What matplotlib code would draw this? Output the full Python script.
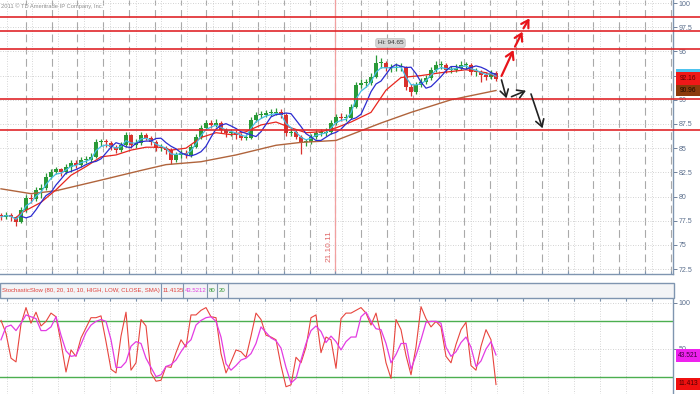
import pandas as pd
import matplotlib
matplotlib.use("Agg")
import matplotlib.pyplot as plt
from matplotlib.patches import Rectangle
from matplotlib import font_manager

# price bars (one every 5 px in the picture)
closes = [77.9, 78.1, 77.9, 77.4, 78.6, 79.9, 79.7, 80.7, 80.9, 82.0,
          82.5, 82.8, 82.5, 83.1, 83.5, 83.3, 83.8, 83.8, 84.1, 85.6,
          85.6, 85.5, 85.1, 84.8, 85.3, 86.4, 85.3, 85.5, 86.4, 86.1,
          85.6, 85.0, 85.0, 84.8, 83.8, 84.3, 84.5, 84.3, 85.1, 86.2,
          87.1, 87.6, 87.4, 87.6, 86.9, 86.6, 86.6, 86.4, 86.1, 86.1,
          87.9, 88.4, 88.4, 88.6, 88.6, 88.7, 88.4, 86.6, 86.7, 86.2,
          85.6, 85.6, 86.2, 86.6, 86.6, 86.7, 87.6, 88.2, 88.1, 88.1,
          89.3, 91.5, 91.7, 91.7, 92.4, 93.8, 93.8, 93.3, 93.3, 93.4,
          93.4, 91.3, 90.8, 91.5, 91.8, 92.3, 93.1, 93.6, 93.6, 93.1,
          93.1, 93.3, 93.6, 93.6, 92.9, 92.9, 92.6, 92.4, 92.8, 92.16]
highs = [78.3, 78.4, 78.3, 78.0, 78.9, 80.2, 80.3, 81.0, 81.3, 82.4,
         82.9, 83.1, 83.0, 83.4, 83.8, 83.8, 84.1, 84.2, 84.5, 85.9,
         86.0, 85.9, 85.7, 85.3, 85.6, 86.7, 86.5, 85.9, 86.7, 86.6,
         86.3, 85.8, 85.4, 85.2, 85.0, 84.6, 84.8, 84.8, 85.4, 86.5,
         87.4, 87.9, 87.9, 88.0, 87.8, 87.1, 87.0, 86.9, 86.6, 86.5,
         88.2, 88.7, 88.8, 88.9, 89.0, 89.1, 89.0, 88.6, 87.1, 87.0,
         86.4, 86.0, 86.5, 86.9, 87.0, 87.1, 87.9, 88.5, 88.6, 88.5,
         89.6, 91.8, 92.1, 92.1, 92.8, 94.65, 94.3, 94.0, 93.7, 93.8,
         93.8, 93.5, 91.6, 91.8, 92.2, 92.6, 93.4, 94.0, 94.0, 93.8,
         93.5, 93.7, 94.0, 93.9, 93.8, 93.3, 93.1, 92.9, 93.1, 93.0]
lows = [77.6, 77.7, 77.5, 77.0, 77.3, 78.4, 79.3, 79.5, 79.9, 80.7,
        81.8, 82.3, 82.1, 82.3, 82.5, 83.0, 83.1, 83.5, 83.6, 84.0,
        85.2, 85.1, 84.8, 84.5, 84.6, 85.1, 85.0, 85.0, 85.3, 85.8,
        85.3, 84.7, 84.7, 84.4, 83.4, 83.6, 84.0, 84.0, 84.1, 85.0,
        86.0, 86.9, 87.1, 87.2, 86.6, 86.2, 86.3, 86.0, 85.8, 85.8,
        86.0, 87.7, 88.1, 88.2, 88.3, 88.4, 88.1, 86.3, 86.3, 85.9,
        84.4, 85.2, 85.4, 86.0, 86.3, 86.3, 86.5, 87.4, 87.8, 87.8,
        88.0, 89.1, 91.2, 91.3, 91.5, 92.2, 93.3, 93.0, 92.9, 93.0,
        93.0, 91.0, 90.4, 90.6, 91.3, 91.6, 92.0, 92.9, 93.2, 92.8,
        92.8, 92.9, 93.1, 93.2, 92.6, 92.5, 91.8, 92.0, 92.1, 91.9]
first_open = 78.0

# moving averages (bar index, price)
red_ma_bar = [3, 4, 8, 11, 14, 17, 20, 23, 26, 29, 32, 34, 37, 40, 43, 46, 49, 52, 55, 58,
              61, 64, 67, 70, 74, 77, 80, 84, 88, 93, 97, 99]
red_ma_val = [77.8, 78.3, 79.4, 80.7, 82.2, 83.1, 84.1, 84.3, 84.8, 85.1, 85.1, 84.8, 85.0, 86.1,
              86.6, 86.4, 86.7, 87.4, 87.7, 87.1, 86.6, 86.7, 87.1, 87.7, 88.7, 91.0, 92.3, 92.5,
              92.8, 93.1, 92.8, 92.4]
brown_ma_bar = [0, 6, 11, 20, 28, 33, 40, 47, 55, 60, 67, 70, 76, 82, 90, 99]
brown_ma_val = [80.8, 80.3, 80.6, 81.7, 82.7, 83.3, 83.6, 84.3, 85.3, 85.6, 85.8, 86.4, 87.6,
                88.7, 90.0, 90.96]

# stochastic slow
stoch_k = [81, 67, 40, 36, 77, 95, 78, 90, 75, 80,
           89, 85, 57, 25, 49, 42, 62, 73, 84, 84,
           86, 58, 28, 24, 64, 90, 27, 35, 82, 75,
           24, 15, 16, 31, 30, 46, 60, 52, 87, 87,
           92, 95, 85, 84, 45, 24, 36, 49, 47, 41,
           64, 89, 82, 65, 63, 60, 32, 9, 11, 41,
           35, 52, 84, 87, 46, 63, 60, 29, 83, 89,
           89, 92, 95, 89, 76, 89, 65, 35, 18, 82,
           71, 43, 22, 52, 96, 83, 74, 80, 74, 42,
           35, 55, 71, 79, 32, 27, 53, 71, 60, 11.4]
stoch_d = [60, 74, 76, 70, 78, 87, 85, 83, 70, 70,
           74, 85, 65, 48, 42, 43, 55, 68, 76, 80,
           82, 80, 60, 30, 30, 36, 53, 58, 56, 40,
           30, 20, 22, 31, 33, 38, 47, 55, 60, 76,
           81, 84, 85, 80, 63, 34, 27, 32, 38, 40,
           45, 56, 74, 68, 62, 59, 51, 30, 13, 18,
           38, 56, 70, 75, 69, 57, 64, 58, 49, 58,
           63, 63, 85, 90, 80, 72, 71, 56, 35, 44,
           56, 56, 28, 43, 60, 79, 80, 80, 78, 52,
           42, 47, 57, 63, 52, 31, 37, 50, 58, 43.5]

levels = [98.6, 97.1, 95.2, 90.05, 86.9]
price_ticks = [72.5, 75, 77.5, 80, 82.5, 85, 87.5, 90, 92.5, 95, 97.5, 100]
# 92.5 sits under the last-price tag in the original, so its label is hidden
price_labels = ["72.5", "75", "77.5", "80", "82.5", "85", "87.5", "90", "", "95", "97.5", "100"]
stoch_ticks = [50, 100]
up_arrows = [((100.1, 92.46), (102.5, 95.14)), ((102.8, 95.49), (104.3, 97.04)),
             ((104.5, 97.39), (105.7, 98.42))]
down_arrows = [((100.1, 92.05), (101.1, 90.15)), ((102.1, 90.32), (105.0, 90.94)),
               ((106.0, 90.60), (108.3, 87.06))]
last_close, last_slow_ma, last_cyan = 92.16, 90.96, 93.0
hi_text = "Hi: 94.65"
date_text = "21.10.11"
stoch_title = "StochasticSlow (80, 20, 10, 10, HIGH, LOW, CLOSE, SMA)"
stoch_vals = ["11.4135", "43.5212", "80", "20"]

names = {f.name for f in font_manager.fontManager.ttflist}
narrow = "Liberation Sans Narrow" in names
plt.rcParams["font.family"] = ["Liberation Sans Narrow" if narrow else "Liberation Sans", "DejaVu Sans"]
fs = 1.0 if narrow else 0.85

W, H = 700, 394
fx = lambda px: px / W
fy = lambda py: 1 - py / H
px_to_bar = lambda px: (px - 1) / 5.0

AXC = "#7f95b0"
TXC = "#5a6e8c"

fig = plt.figure(figsize=(7, 3.94), dpi=100)
ax = fig.add_axes([0, fy(274), fx(673), 274 / H])
ax2 = fig.add_axes([0, 0, fx(673), 96 / H])

xlim = (px_to_bar(0), px_to_bar(673))
dashed_pos = [px_to_bar(25.8 * k) for k in range(1, 27)]
dotted_pos = [px_to_bar(25.8 * k + 6.5) for k in range(0, 26)]

# ---- main price panel
ax.set_xlim(*xlim)
ax.set_ylim(72.0, 100.31)
for x in dashed_pos:
    ax.axvline(x, color="#a9a9a9", lw=0.8, ls=(0, (7, 4)), zorder=0)
for x in dotted_pos:
    ax.axvline(x, color="#c9c9c9", lw=0.6, ls=(0, (1, 2)), zorder=0)
for y in price_ticks:
    ax.axhline(y, color="#c4c4c4", lw=0.6, ls=(0, (1, 2)), zorder=0)

ax.axvline(px_to_bar(335.4), color="#f2a0a0", lw=0.9, zorder=1)
ax.text(px_to_bar(329), 74.9, date_text, rotation=90, ha="center", va="center",
        color="#e06a6a", fontsize=7 * fs)

opens = [first_open] + closes[:-1]
for i, (o, c, h, l) in enumerate(zip(opens, closes, highs, lows)):
    col = "#2a9a38" if c >= o else "#d8322e"
    ax.vlines(i, l, h, color=col, lw=0.9, zorder=2)
    body = c - o if abs(c - o) > 0.1 else 0.1
    ax.bar(i, body, bottom=o, width=0.75, color=col, lw=0, zorder=2)

s = pd.Series(closes)
cyan = s.ewm(span=3).mean()
blue = s.rolling(3).mean().shift(2)
ax.plot(brown_ma_bar, brown_ma_val, color="#b0643c", lw=1.0, zorder=3)
ax.plot(red_ma_bar, red_ma_val, color="#e8261e", lw=0.9, zorder=3)
ax.plot(range(len(closes)), cyan, color="#46bde6", lw=0.9, zorder=3)
ax.plot(range(len(closes)), blue, color="#2c2cd0", lw=0.9, zorder=3)

ytr = ax.get_yaxis_transform()
for lv in levels:
    ax.plot([0, 700 / 673], [lv, lv], transform=ytr, color="#e0262a", lw=1.2,
            clip_on=False, zorder=4)

for (x0, y0), (x1, y1) in up_arrows:
    ax.annotate("", xy=(x1, y1), xytext=(x0, y0), annotation_clip=False, zorder=6,
                arrowprops=dict(arrowstyle="->,head_width=0.3,head_length=0.5", color="#e8141a",
                                lw=1.6, shrinkA=0, shrinkB=0))
for (x0, y0), (x1, y1) in down_arrows:
    ax.annotate("", xy=(x1, y1), xytext=(x0, y0), annotation_clip=False, zorder=6,
                arrowprops=dict(arrowstyle="->,head_width=0.3,head_length=0.5", color="#222222",
                                lw=1.2, shrinkA=0, shrinkB=0))

ax.text(px_to_bar(390.5), 95.87, hi_text, ha="center", va="center", fontsize=5.5 * fs,
        color="#333333", zorder=6,
        bbox=dict(boxstyle="round,pad=0.3", fc="#d6d6d6", ec="#bdbdbd", lw=0.5))

ax.yaxis.tick_right()
ax.set_yticks(price_ticks)
ax.set_yticklabels(price_labels)
ax.tick_params(axis="y", colors=TXC, labelsize=6 * fs, length=3, width=0.6, pad=1)
ax.set_xticks(dashed_pos)
ax.tick_params(axis="x", length=2, direction="in", color=AXC, labelbottom=False)
for side in ["top", "left"]:
    ax.spines[side].set_visible(False)
for side in ["right", "bottom"]:
    ax.spines[side].set_color(AXC)
    ax.spines[side].set_linewidth(1.0)


def tag(a, y, h, text, fc, tc, size):
    tr = a.get_yaxis_transform()
    a.add_patch(Rectangle((1.0045, y - h / 2), 0.036, h, transform=tr, fc=fc, ec="none",
                          clip_on=False, zorder=7))
    if text:
        a.text(1.0225, y, text, transform=tr, ha="center", va="center", fontsize=size,
               color=tc, clip_on=False, zorder=8)


tag(ax, last_cyan, 0.45, "", "#4ec3ee", "k", 5)
tag(ax, last_close, 1.4, "%.2f" % last_close, "#f01818", "#5a0000", 5.6 * fs)
tag(ax, last_slow_ma, 1.2, "%.2f" % last_slow_ma, "#8c3a0c", "#1e0a00", 5.6 * fs)

# ---- stochastic header
fig.add_artist(Rectangle((0, fy(298)), fx(674), 15 / H, transform=fig.transFigure,
                         fc="#f3f4f6", ec=AXC, lw=1.0))
seps = [161, 183, 207, 217, 228]
for sx in seps:
    fig.add_artist(plt.Line2D([fx(sx), fx(sx)], [fy(298), fy(283)], transform=fig.transFigure,
                              color=AXC, lw=0.8))
hy = fy(290.5)
hs = 5.1 * fs
fig.text(fx(1.5), hy, stoch_title, color="#e0403a", fontsize=hs, va="center")
for txt, x0, col in zip(stoch_vals, [163, 185, 209, 219], ["#e0403a", "#e040e0", "#3a9a3a", "#3a9a3a"]):
    fig.text(fx(x0), hy, txt, color=col, fontsize=hs, va="center")

fig.text(fx(1), fy(6), "2011 \u00a9 TD Ameritrade IP Company, Inc.", color="#8e8e8e",
         fontsize=4.9 * fs, va="center")

# ---- stochastic panel
ax2.set_xlim(*xlim)
ax2.set_ylim(1.1, 105.4)
for x in dotted_pos:
    ax2.axvline(x, color="#c9c9c9", lw=0.6, ls=(0, (1, 2)), zorder=0)
for y in [50, 100]:
    ax2.axhline(y, color="#c4c4c4", lw=0.6, ls=(0, (1, 2)), zorder=0)
ax2.axhline(80, color="#4caf50", lw=1.0, zorder=1)
ax2.axhline(20, color="#4caf50", lw=1.0, zorder=1)
ax2.plot(range(len(stoch_k)), stoch_k, color="#e8453e", lw=0.8, zorder=3)
ax2.plot(range(len(stoch_d)), stoch_d, color="#e33ce3", lw=0.9, zorder=3)
ax2.yaxis.tick_right()
ax2.set_yticks(stoch_ticks)
ax2.tick_params(axis="y", colors=TXC, labelsize=6 * fs, length=3, width=0.6, pad=1)
ax2.set_xticks(dotted_pos)
ax2.tick_params(axis="x", length=2, direction="in", color=AXC, labelbottom=False,
                top=True, bottom=False)
for side in ["top", "left", "bottom"]:
    ax2.spines[side].set_visible(False)
ax2.spines["right"].set_color(AXC)
ax2.spines["right"].set_linewidth(1.0)
tag(ax2, 42.5, 14, "43.521", "#ee22ee", "#400040", 5.6 * fs)
tag(ax2, 12.0, 13, "11.413", "#f01010", "#500000", 5.6 * fs)

fig.savefig("out.png", dpi=100)
